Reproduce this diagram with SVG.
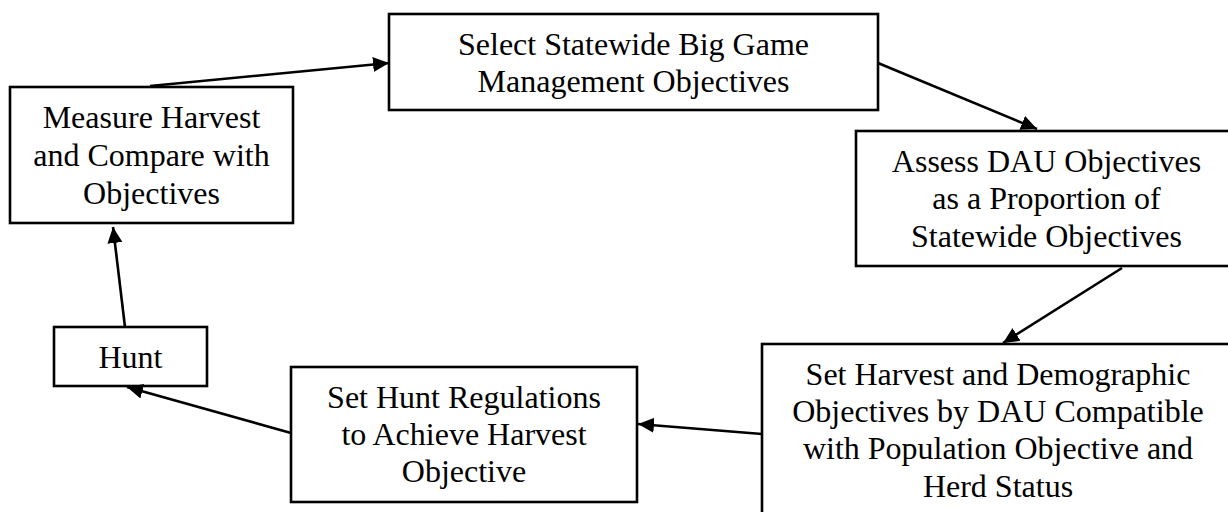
<svg xmlns="http://www.w3.org/2000/svg" width="1228" height="512" viewBox="0 0 1228 512">
<style>
.box{fill:#fff;stroke:#000;stroke-width:2.6}
.lbl{font-family:"Liberation Serif","Times New Roman",serif;font-size:32px;fill:#000;text-anchor:middle}
.conn{stroke:#000;stroke-width:2.6;fill:none;marker-end:url(#ah)}
</style>
<defs>
<marker id="ah" markerUnits="userSpaceOnUse" markerWidth="18" markerHeight="18" viewBox="0 0 18 18" refX="16" refY="9" orient="auto">
<path d="M0,1.5 L16,9 L0,16.5 Z" fill="#000"/>
</marker>
</defs>
<rect width="1228" height="512" fill="#fff"/>
<g id="n-measure">
<rect class="box" x="10" y="87" width="283" height="136"/>
<text class="lbl" x="151.5" y="128">Measure Harvest</text>
<text class="lbl" x="151.5" y="166">and Compare with</text>
<text class="lbl" x="151.5" y="204">Objectives</text>
</g>
<g id="n-select">
<rect class="box" x="389" y="14" width="489" height="96"/>
<text class="lbl" x="633.5" y="55">Select Statewide Big Game</text>
<text class="lbl" x="633.5" y="92">Management Objectives</text>
</g>
<g id="n-assess">
<rect class="box" x="856" y="131" width="381" height="135"/>
<text class="lbl" x="1046.5" y="172">Assess DAU Objectives</text>
<text class="lbl" x="1046.5" y="209">as a Proportion of</text>
<text class="lbl" x="1046.5" y="247">Statewide Objectives</text>
</g>
<g id="n-setharvest">
<rect class="box" x="762" y="344" width="472" height="200"/>
<text class="lbl" x="998" y="385">Set Harvest and Demographic</text>
<text class="lbl" x="998" y="422">Objectives by DAU Compatible</text>
<text class="lbl" x="998" y="458.5">with Population Objective and</text>
<text class="lbl" x="998" y="497">Herd Status</text>
</g>
<g id="n-regulations">
<rect class="box" x="291" y="367" width="346" height="135"/>
<text class="lbl" x="464" y="408">Set Hunt Regulations</text>
<text class="lbl" x="464" y="445">to Achieve Harvest</text>
<text class="lbl" x="464" y="482">Objective</text>
</g>
<g id="n-hunt">
<rect class="box" x="54" y="327" width="153" height="59"/>
<text class="lbl" x="130.5" y="368">Hunt</text>
</g>
<g id="connectors">
<line class="conn" x1="150" y1="86" x2="389" y2="63"/>
<line class="conn" x1="878" y1="63" x2="1037" y2="129"/>
<line class="conn" x1="1122" y1="268" x2="1003" y2="343"/>
<line class="conn" x1="762" y1="434" x2="638" y2="424"/>
<line class="conn" x1="291" y1="433" x2="127" y2="387"/>
<line class="conn" x1="125" y1="327" x2="113" y2="227"/>
</g>
</svg>
